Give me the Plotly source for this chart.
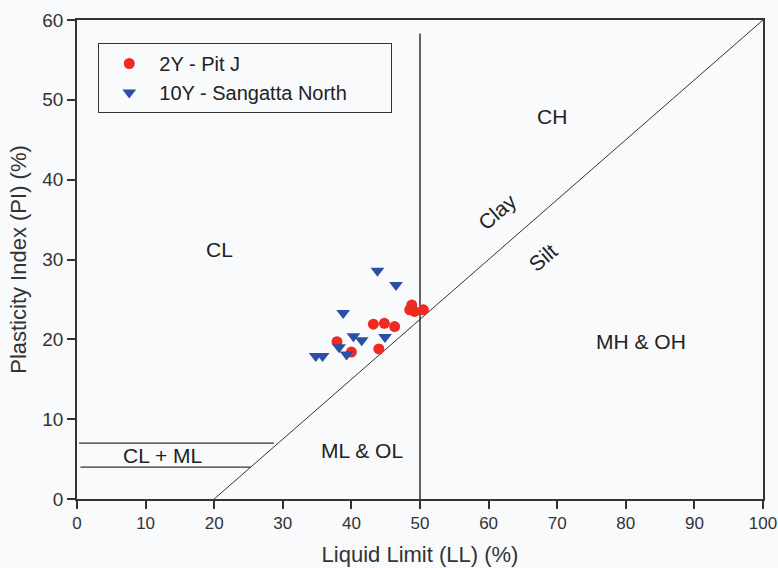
import plotly.graph_objects as go

# Data
pit_j_ll = [37.9, 40.0, 43.2, 44.8, 46.3, 44.0, 48.8, 48.5, 49.2, 50.5]
pit_j_pi = [19.7, 18.4, 21.9, 22.0, 21.6, 18.8, 24.3, 23.7, 23.5, 23.7]

sang_ll = [43.8, 46.5, 38.8, 40.3, 41.5, 44.9, 38.2, 39.3, 34.8, 35.8]
sang_pi = [28.6, 26.8, 23.3, 20.4, 19.9, 20.3, 19.0, 18.1, 17.9, 17.9]

# Classification chart lines
a_line_ll = [20, 100]
a_line_pi = [0, 60]
ll50_x = [50, 50]
ll50_y = [0, 58.3]
clml_upper_x = [0.3, 28.7]
clml_upper_y = [7, 7]
clml_lower_x = [0.5, 25.3]
clml_lower_y = [4, 4]

x_ticks = list(range(0, 101, 10))
y_ticks = list(range(0, 61, 10))

BG = "#f9fafc"
FONT = "Liberation Sans, Arial, sans-serif"

fig = go.Figure()

thin = dict(color="#333333", width=1)
fig.add_trace(go.Scatter(x=a_line_ll, y=a_line_pi, mode="lines", line=thin,
                         showlegend=False, hoverinfo="skip"))
fig.add_trace(go.Scatter(x=ll50_x, y=ll50_y, mode="lines",
                         line=dict(color="#222222", width=1.4),
                         showlegend=False, hoverinfo="skip"))
for xs, ys in [(clml_upper_x, clml_upper_y), (clml_lower_x, clml_lower_y)]:
    fig.add_trace(go.Scatter(x=xs, y=ys, mode="lines",
                             line=dict(color="#333333", width=1.2),
                             showlegend=False, hoverinfo="skip"))

fig.add_trace(go.Scatter(
    x=pit_j_ll, y=pit_j_pi, mode="markers", name="2Y - Pit J",
    marker=dict(symbol="circle", size=11, color="#ee2a22", line=dict(width=0))))
fig.add_trace(go.Scatter(
    x=sang_ll, y=sang_pi, mode="markers",
    name="10Y - Sangatta North" + "\u00a0" * 7,
    marker=dict(symbol="triangle-down", size=12, color="#2b4fa6", line=dict(width=0))))

labels = [
    ("CH", 69.2, 47.9, 0),
    ("CL", 20.7, 31.2, 0),
    ("MH & OH", 82.2, 19.7, 0),
    ("ML & OL", 41.5, 6.1, 0),
    ("CL + ML", 12.5, 5.5, 0),
    ("Clay", 61.3, 36.0, -41),
    ("Silt", 67.9, 30.3, -41),
]
for text, x, y, ang in labels:
    fig.add_annotation(x=x, y=y, text=text, showarrow=False, textangle=ang,
                       font=dict(family=FONT, size=21, color="#222222"))

axis_common = dict(
    showline=True, linecolor="#333333", linewidth=1.5, mirror=True,
    ticks="outside", ticklen=8, tickwidth=1.5, tickcolor="#333333",
    showgrid=False, zeroline=False, automargin=False,
    ticklabeloverflow="allow",
)

fig.update_layout(
    width=778, height=568,
    margin=dict(l=77, r=15, t=20, b=69),
    paper_bgcolor=BG, plot_bgcolor=BG,
    font=dict(family=FONT, color="#333333"),
    xaxis=dict(range=[0, 100], tickvals=x_ticks,
               tickfont=dict(family=FONT, size=17, color="#333333"),
               title=dict(text="Liquid Limit (LL) (%)",
                          font=dict(family=FONT, size=22, color="#333333"), standoff=14),
               **axis_common),
    yaxis=dict(range=[0, 60], tickvals=y_ticks,
               tickfont=dict(family=FONT, size=19, color="#333333"),
               title=dict(text="Plasticity Index (PI) (%)",
                          font=dict(family=FONT, size=22, color="#333333"), standoff=10),
               **axis_common),
    legend=dict(x=0.031, y=0.952, xanchor="left", yanchor="top",
                bgcolor=BG, bordercolor="#333333", borderwidth=1,
                font=dict(family=FONT, size=20, color="#222222"),
                itemwidth=50, tracegroupgap=0),
)

fig.write_html("out.html")
